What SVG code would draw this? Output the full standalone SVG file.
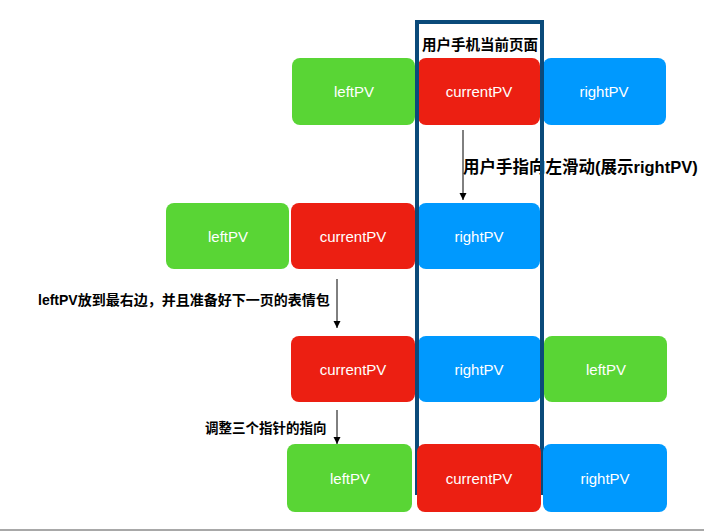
<svg xmlns="http://www.w3.org/2000/svg" width="704" height="531" viewBox="0 0 704 531">
<defs>
<style>
.g{fill:#59D535}.r{fill:#EC1F12}.b{fill:#0099FE}
.t{fill:#fff;font-family:"Liberation Sans",Arial,sans-serif;font-size:15px;text-anchor:middle}
.l{fill:#000;font-family:"Liberation Sans","Noto Sans CJK SC",sans-serif;font-weight:bold}
.e{stroke:#000;stroke-width:1;fill:none;marker-end:url(#ah)}
.f{stroke:#0A4A7A;stroke-width:4;fill:none}
</style>
<marker id="ah" markerWidth="7" markerHeight="8" refX="7" refY="3.5" orient="auto" markerUnits="userSpaceOnUse">
<path d="M0,0 L7,3.5 L0,7 Z" fill="#000"/>
</marker>
</defs>
<rect width="704" height="531" fill="#fff"/>
<line x1="0" y1="530" x2="704" y2="530" stroke="#A8A8A8" stroke-width="2"/>
<g id="row1">
<g id="r1-left"><rect class="g" x="292" y="58" width="123" height="67" rx="8"/><text class="t" x="354" y="97">leftPV</text></g>
<g id="r1-current"><rect class="r" x="418" y="58" width="122" height="67" rx="8"/><text class="t" x="479" y="97">currentPV</text></g>
<g id="r1-right"><rect class="b" x="543" y="58" width="123" height="67" rx="8"/><text class="t" x="604" y="97">rightPV</text></g>
</g>
<g id="row2">
<g id="r2-left"><rect class="g" x="166" y="203" width="123" height="66" rx="8"/><text class="t" x="228" y="242">leftPV</text></g>
<g id="r2-current"><rect class="r" x="291" y="203" width="124" height="66" rx="8"/><text class="t" x="353" y="242">currentPV</text></g>
<g id="r2-right"><rect class="b" x="418" y="203" width="122" height="66" rx="8"/><text class="t" x="479" y="242">rightPV</text></g>
</g>
<g id="row3">
<g id="r3-current"><rect class="r" x="291" y="336" width="124" height="66" rx="8"/><text class="t" x="353" y="375">currentPV</text></g>
<g id="r3-right"><rect class="b" x="418" y="336" width="123" height="66" rx="8"/><text class="t" x="479" y="375">rightPV</text></g>
<g id="r3-left"><rect class="g" x="544" y="336" width="123" height="66" rx="8"/><text class="t" x="606" y="375">leftPV</text></g>
</g>
<g id="labels">
<text class="l" x="480" y="50" font-size="14.5" text-anchor="middle">用户手机当前页面</text>
<text class="l" x="463" y="173" font-size="16.5">用户手指向左滑动(展示rightPV)</text>
<text class="l" x="38" y="305" font-size="14">leftPV放到最右边，并且准备好下一页的表情包</text>
<text class="l" x="205" y="433" font-size="13.5">调整三个指针的指向</text>
</g>
<g id="frame"><path class="f" d="M417,495 L417,22 L542,22 L542,495"/></g>
<g id="row4">
<g id="r4-left"><rect class="g" x="287" y="444" width="125" height="68" rx="8"/><text class="t" x="350" y="484">leftPV</text></g>
<g id="r4-current"><rect class="r" x="417" y="444" width="124" height="68" rx="8"/><text class="t" x="479" y="484">currentPV</text></g>
<g id="r4-right"><rect class="b" x="543" y="444" width="124" height="68" rx="8"/><text class="t" x="605" y="484">rightPV</text></g>
</g>
<g id="connectors">
<line class="e" x1="463" y1="130" x2="463" y2="200"/>
<line class="e" x1="337" y1="279" x2="337" y2="328"/>
<line class="e" x1="337" y1="410" x2="337" y2="444"/>
</g>
</svg>
